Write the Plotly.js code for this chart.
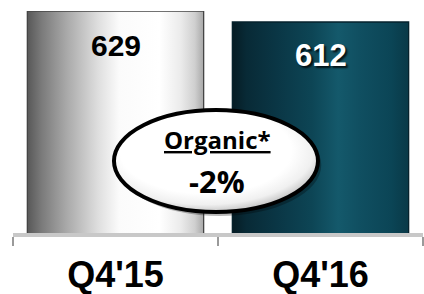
<!DOCTYPE html>
<html>
<head>
<meta charset="utf-8">
<script src="https://cdn.plot.ly/plotly-3.0.1.min.js"></script>
<style>html,body{margin:0;padding:0;background:#fff;}#chart{width:424px;height:294px;}</style>
</head>
<body>
<div id="chart"></div>
<script>
const categories = ["Q4'15", "Q4'16"];
const revenue = [629, 612];
const valueLabels = ["629", "612"];
const bubbleTitle = "Organic*";
const bubbleValue = "-2%";

const trace = {
  type: 'bar',
  x: categories,
  y: revenue,
  marker: {color: ['#e8e8e8', '#0d4657'], line: {color: ['#444444', '#06222c'], width: 1.3}},
  hoverinfo: 'skip'
};

const layout = {
  width: 424, height: 294,
  margin: {l: 13, r: 1, t: 11, b: 61},
  paper_bgcolor: '#fff', plot_bgcolor: '#fff',
  showlegend: false,
  bargap: 0.14,
  xaxis: {
    type: 'category', range: [-0.5, 1.5], fixedrange: true,
    tickson: 'boundaries', ticks: 'outside', ticklen: 9, tickwidth: 1.5, tickcolor: '#9a9a9a',
    showline: true, linecolor: '#c8c8c8', linewidth: 4,
    showgrid: false, zeroline: false,
    tickfont: {family: 'Liberation Sans, Arial', size: 36, color: '#000', weight: 'bold'},
    ticklabelstandoff: 7
  },
  yaxis: {visible: false, range: [286, 629], fixedrange: true},
  shapes: [
    {type: 'circle', xref: 'paper', yref: 'paper', layer: 'above',
     x0: 0.2463 + 0.008, x1: 0.7439 + 0.008, y0: 0.0946 - 0.018, y1: 0.554 - 0.018,
     fillcolor: 'rgba(0,0,0,0.28)', line: {width: 0}},
    {type: 'circle', xref: 'paper', yref: 'paper', layer: 'above',
     x0: 0.2463, x1: 0.7439, y0: 0.0946, y1: 0.554,
     fillcolor: '#ffffff', line: {color: '#000', width: 4}}
  ],
  annotations: [
    {xref: 'x', yref: 'y', x: categories[0], y: revenue[0], yanchor: 'middle', yshift: -34, showarrow: false,
     text: valueLabels[0], font: {family: 'Liberation Sans, Arial', size: 30, color: '#000', weight: 'bold'}},
    {xref: 'x', yref: 'y', x: categories[1], y: revenue[1], yanchor: 'middle', yshift: -33, showarrow: false,
     text: valueLabels[1], font: {family: 'Liberation Sans, Arial', size: 31, color: '#fff', weight: 'bold', shadow: '2px 2px 2px rgba(0,0,0,0.8)'}},
    {xref: 'paper', yref: 'paper', x: 0.4976, y: 0.422, yanchor: 'middle', showarrow: false,
     text: bubbleTitle, font: {family: 'Open Sans', size: 24, color: '#000', weight: 'bold', lineposition: 'under'}},
    {xref: 'paper', yref: 'paper', x: 0.4976, y: 0.236, yanchor: 'middle', showarrow: false,
     text: bubbleValue, font: {family: 'Open Sans', size: 31, color: '#000', weight: 'bold'}}
  ]
};

function addGradients(gd) {
  const svgNS = 'http://www.w3.org/2000/svg';
  const svg = gd.querySelector('.main-svg');
  let defs = svg.querySelector('defs');
  if (!defs) { defs = document.createElementNS(svgNS, 'defs'); svg.insertBefore(defs, svg.firstChild); }
  function lin(id, stops) {
    const g = document.createElementNS(svgNS, 'linearGradient');
    g.setAttribute('id', id); g.setAttribute('x1', '0'); g.setAttribute('x2', '1'); g.setAttribute('y1', '0'); g.setAttribute('y2', '0');
    stops.forEach(s => { const st = document.createElementNS(svgNS, 'stop'); st.setAttribute('offset', s[0]); st.setAttribute('stop-color', s[1]); g.appendChild(st); });
    defs.appendChild(g);
  }
  lin('gradL', [[0, '#585858'], [0.08, '#7a7a7a'], [0.22, '#a8a8a8'], [0.4, '#dedede'], [0.52, '#fbfbfb'], [0.75, '#ffffff'], [0.87, '#ebebeb'], [0.95, '#cfcfcf'], [1, '#a8a8a8']]);
  lin('gradR', [[0, '#061c24'], [0.08, '#082a36'], [0.25, '#0a3645'], [0.45, '#0d4555'], [0.6, '#14596b'], [0.72, '#104f61'], [0.9, '#0b4556'], [1, '#093947']]);
  const rg = document.createElementNS(svgNS, 'radialGradient');
  rg.setAttribute('id', 'gradE'); rg.setAttribute('cx', '0.45'); rg.setAttribute('cy', '0.4'); rg.setAttribute('r', '0.6');
  [[0, '#ffffff'], [0.7, '#ffffff'], [0.88, '#f0f0f0'], [1, '#c8c8c8']].forEach(s => { const st = document.createElementNS(svgNS, 'stop'); st.setAttribute('offset', s[0]); st.setAttribute('stop-color', s[1]); rg.appendChild(st); });
  defs.appendChild(rg);
  const bars = gd.querySelectorAll('.bars .point path');
  if (bars[0]) bars[0].style.fill = 'url(#gradL)';
  if (bars[1]) bars[1].style.fill = 'url(#gradR)';
  const shapes = gd.querySelectorAll('.layer-above .shapelayer path');
  if (shapes[1]) shapes[1].style.fill = 'url(#gradE)';
}

Plotly.newPlot('chart', [trace], layout, {displayModeBar: false, staticPlot: true}).then(addGradients);
</script>
</body>
</html>
